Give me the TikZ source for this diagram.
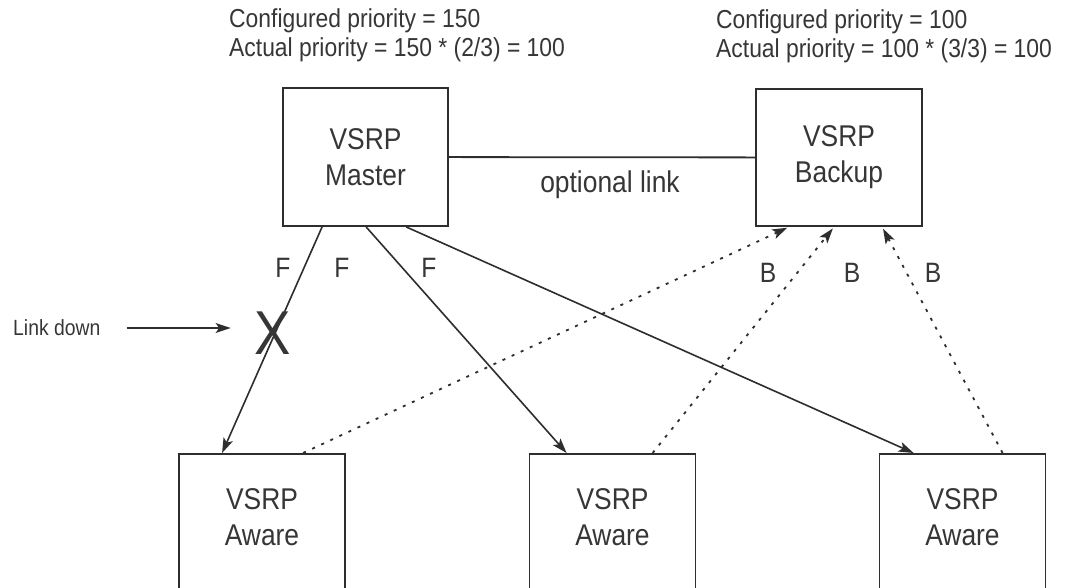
\documentclass[tikz,border=0pt]{standalone}
\usepackage{fontspec}
\setmainfont{Liberation Sans}
\newfontfamily\narrowsf[FakeStretch=0.88]{Liberation Sans}
\usepackage{tikz}
\usetikzlibrary{positioning, arrows.meta, calc}
\definecolor{LineGray}{HTML}{2E2E2E}
\definecolor{TextGray}{HTML}{363636}

\begin{document}
\begin{tikzpicture}[x=1pt, y=-1pt,
      box/.style={draw=LineGray, line width=1.8pt, inner sep=0pt, align=center, text=TextGray, font=\narrowsf\fontsize{30}{36}\selectfont},
      awarebox/.style={box, minimum width=166pt, minimum height=180pt, anchor=north},
      note/.style={text=TextGray, align=left, inner sep=0pt, font=\narrowsf\fontsize{26}{29}\selectfont},
      tag/.style={text=TextGray, inner sep=0pt, font=\narrowsf\fontsize{28}{30}\selectfont},
      fwd/.style={LineGray, line width=1.6pt, -{Stealth[length=15pt, width=10pt, inset=3.5pt]}},
      bwd/.style={LineGray, line width=1.8pt, dash pattern=on 3pt off 7pt, -{Stealth[length=15pt, width=10pt, inset=3.5pt]}, shorten >=2pt}
  ]
    \clip (0,0) rectangle (1069,588);
    \fill[white] (0,0) rectangle (1069,588);
    % priorities
    \node[note, anchor=west](prioM) at (229,35){Configured priority = 150\\Actual priority = 150 * (2/3) = 100};
    \node[note, anchor=west](prioB) at (716,36){Configured priority = 100\\Actual priority = 100 * (3/3) = 100};
    % routers
    \node[box, minimum width=165pt, minimum height=138pt](master) at (365.5,157){VSRP\\Master};
    \node[box, minimum width=166pt, minimum height=137pt](backup) at (839,157.5){VSRP\\Backup};
    \node[awarebox](aw1) at (262,453){};
    \node[awarebox](aw2) at (612.5,453){};
    \node[awarebox](aw3) at (962.5,453){};
    \node[box, draw=none](aw1t) at ([yshift=-64pt]aw1.north){VSRP\\Aware};
    \node[box, draw=none](aw2t) at ([yshift=-64pt]aw2.north){VSRP\\Aware};
    \node[box, draw=none](aw3t) at ([yshift=-64pt]aw3.north){VSRP\\Aware};
    \draw[LineGray, line width=1.8pt](master)--(backup);
    \node[box, draw=none](optlink) at (610,185){optional link};
    % forwarding links
    \draw[fwd]([xshift=40pt]master.south west)--([xshift=44pt]aw1.north west);
    \draw[fwd]([xshift=84pt]master.south west)--([xshift=38pt]aw2.north west);
    \draw[fwd]([xshift=124pt]master.south west)--([xshift=35pt]aw3.north west);
    % backup links
    \draw[bwd]([xshift=125pt]aw1.north west)--([xshift=34pt]backup.south west);
    \draw[bwd]([xshift=124pt]aw2.north west)--([xshift=79pt]backup.south west);
    \draw[bwd]([xshift=124pt]aw3.north west)--([xshift=127pt]backup.south west);
    \node[tag](f1) at (283,268){F}; \node[tag](f2) at (342,268){F}; \node[tag](f3) at (429,268){F};
    \node[tag](b1) at (768,273){B}; \node[tag](b2) at (852,273){B}; \node[tag](b3) at (933,273){B};
    % failure
    \node[tag, font=\narrowsf\fontsize{62}{62}\selectfont](cut) at (273,333){X};
    \node[note, font=\narrowsf\fontsize{22}{26}\selectfont, anchor=west](linkdown) at (13,328){Link down};
    \draw[fwd, line width=1.3pt]([xshift=26pt]linkdown.east)--($(linkdown.east -| cut.west)+(-24,0)$);
  \end{tikzpicture}
\end{document}
